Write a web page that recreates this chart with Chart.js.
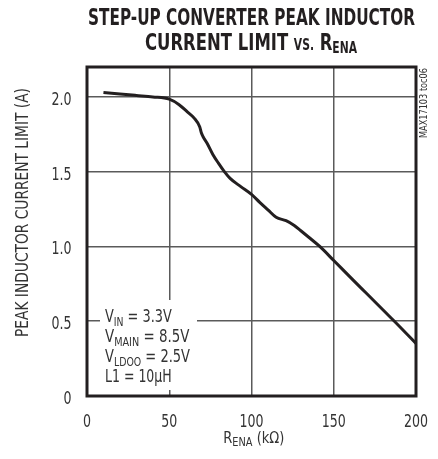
<!DOCTYPE html>
<html>
<head>
<meta charset="utf-8">
<script src="https://cdn.jsdelivr.net/npm/chart.js@4.4.0/dist/chart.umd.min.js"></script>
<style>
  html, body { margin: 0; padding: 0; background: #ffffff; }
  #wrap { width: 438px; height: 459px; position: relative; }
</style>
</head>
<body>
<div id="wrap"><canvas id="c" width="438" height="459"></canvas></div>
<script>
// ---- data ----
const rEna = [10, 20, 30, 40, 50, 56, 61, 65, 68.5, 69.5, 70.5, 73, 76.5, 80, 83.5, 87, 93.5, 100, 105, 110, 115, 121, 126, 130, 135, 141.5, 150, 160, 170, 180, 190, 200];
const iLimit = [2.03, 2.02, 2.01, 2.00, 1.985, 1.948, 1.90, 1.86, 1.80, 1.76, 1.735, 1.69, 1.615, 1.555, 1.50, 1.455, 1.40, 1.348, 1.295, 1.245, 1.195, 1.172, 1.14, 1.105, 1.06, 1.0, 0.906, 0.795, 0.685, 0.575, 0.465, 0.352];
const xTicks = [0, 50, 100, 150, 200];
const xTickLabels = ['0', '50', '100', '150', '200'];
const yTicks = [0, 0.5, 1.0, 1.5, 2.0];
const yTickLabels = ['0', '0.5', '1.0', '1.5', '2.0'];

const FAM = "'Liberation Sans Narrow', 'DejaVu Sans Condensed', 'Liberation Sans', sans-serif";
const INK = '#231f20';
const TXT = '#333333';

function richWidth(ctx, parts) {
  let w = 0;
  for (const p of parts) { ctx.font = (p.bold ? 'bold ' : '') + p.size + 'px ' + FAM; w += ctx.measureText(p.t).width; }
  return w;
}
function drawRich(ctx, parts, x, baseline, targetW, align, color) {
  const w = richWidth(ctx, parts);
  const sx = targetW ? targetW / w : 1;
  let startX = x - (w * sx) / 2;
  if (align === 'left') startX = x;
  if (align === 'right') startX = x - w * sx;
  ctx.save();
  ctx.translate(startX, baseline);
  ctx.scale(sx, 1);
  ctx.fillStyle = color || TXT;
  ctx.textBaseline = 'alphabetic';
  ctx.textAlign = 'left';
  let cx = 0;
  for (const p of parts) {
    ctx.font = (p.bold ? 'bold ' : '') + p.size + 'px ' + FAM;
    ctx.fillText(p.t, cx, p.dy || 0);
    cx += ctx.measureText(p.t).width;
  }
  ctx.restore();
}

const decor = {
  id: 'decor',
  beforeDraw(chart) {
    const ctx = chart.ctx;
    ctx.save();
    ctx.fillStyle = '#ffffff';
    ctx.fillRect(0, 0, chart.width, chart.height);
    ctx.restore();
  },
  afterDatasetsDraw(chart) {
    const ctx = chart.ctx;
    const a = chart.chartArea;
    // frame
    ctx.save();
    ctx.strokeStyle = INK;
    ctx.lineWidth = 3;
    ctx.strokeRect(a.left, a.top, a.right - a.left, a.bottom - a.top);
    ctx.restore();

    // tick labels (condensed), positioned by the library's scales
    const TS = 18.5;
    ctx.save();
    ctx.font = TS + 'px ' + FAM;
    const sx = 24 / ctx.measureText('200').width;
    const natW = (s) => ctx.measureText(s).width;
    const xs = chart.scales.x, ys = chart.scales.y;
    const xW = xTickLabels.map(natW), yW = yTickLabels.map(natW);
    ctx.restore();
    xs.ticks.forEach((t) => {
      const i = xTicks.indexOf(t.value);
      if (i < 0) return;
      drawRich(ctx, [{t: xTickLabels[i], size: TS}], xs.getPixelForValue(t.value), a.bottom + 30.5, xW[i] * sx, 'center');
    });
    ys.ticks.forEach((t) => {
      const i = yTicks.indexOf(t.value);
      if (i < 0) return;
      drawRich(ctx, [{t: yTickLabels[i], size: TS}], 71.5, ys.getPixelForValue(t.value) + 8, yW[i] * sx, 'right');
    });

    // condition box
    ctx.save();
    ctx.fillStyle = '#ffffff';
    ctx.fillRect(100, 300, 97, 90);
    ctx.restore();
    const M = 18, S = 13, D = 4;
    drawRich(ctx, [{t:'V', size:M}, {t:'IN', size:S, dy:D}, {t:' = 3.3V', size:M}], 105, 321.7, 66.7, 'left');
    drawRich(ctx, [{t:'V', size:M}, {t:'MAIN', size:S, dy:D}, {t:' = 8.5V', size:M}], 105, 341.7, 84.3, 'left');
    drawRich(ctx, [{t:'V', size:M}, {t:'LDOO', size:S, dy:D}, {t:' = 2.5V', size:M}], 105, 361.7, 85, 'left');
    drawRich(ctx, [{t:'L1 = 10\u00B5H', size:M}], 105, 382.3, 66.7, 'left');

    // title
    drawRich(ctx, [{t:'STEP-UP CONVERTER PEAK INDUCTOR', size:23, bold:true}], 251.5, 25, 327, 'center', INK);
    drawRich(ctx, [{t:'CURRENT LIMIT ', size:23, bold:true}, {t:'VS.', size:15, bold:true}, {t:' R', size:23, bold:true}, {t:'ENA', size:15, bold:true, dy:3}], 251, 50, 212, 'center', INK);

    // x title
    drawRich(ctx, [{t:'R', size:16}, {t:'ENA', size:12, dy:3}, {t:' (k\u03A9)', size:16}], 253.8, 443, 61, 'center');

    // y title (rotated)
    ctx.save();
    ctx.translate(22, 212.5);
    ctx.rotate(-Math.PI / 2);
    drawRich(ctx, [{t:'PEAK INDUCTOR CURRENT LIMIT (A)', size:17}], 0, 6, 249, 'center');
    ctx.restore();

    // side tag (reads bottom to top)
    ctx.save();
    ctx.translate(426.5, 103);
    ctx.rotate(-Math.PI / 2);
    drawRich(ctx, [{t:'MAX17103 toc06', size:10}], 0, 0, 70, 'center');
    ctx.restore();
  }
};

new Chart(document.getElementById('c'), {
  type: 'line',
  data: {
    datasets: [{
      data: rEna.map((x, i) => ({ x: x, y: iLimit[i] })),
      borderColor: INK,
      borderWidth: 3,
      pointRadius: 0,
      fill: false,
      cubicInterpolationMode: 'monotone'
    }]
  },
  options: {
    responsive: false,
    animation: false,
    devicePixelRatio: 1,
    layout: { padding: { left: 0, right: 22, top: 67, bottom: 0 } },
    plugins: { legend: { display: false }, tooltip: { enabled: false }, title: { display: false } },
    scales: {
      x: {
        type: 'linear',
        min: 0, max: 200,
        afterBuildTicks: (s) => { s.ticks = xTicks.map(v => ({ value: v })); },
        afterFit: (s) => { s.height = 63; },
        grid: { color: '#5a5a5a', lineWidth: 1.5, drawTicks: false },
        border: { display: false },
        ticks: { display: false }
      },
      y: {
        type: 'linear',
        min: 0, max: 2.2,
        afterBuildTicks: (s) => { s.ticks = yTicks.map(v => ({ value: v })); },
        afterFit: (s) => { s.width = 87; },
        grid: { color: '#5a5a5a', lineWidth: 1.5, drawTicks: false },
        border: { display: false },
        ticks: { display: false }
      }
    }
  },
  plugins: [decor]
});
</script>
</body>
</html>
